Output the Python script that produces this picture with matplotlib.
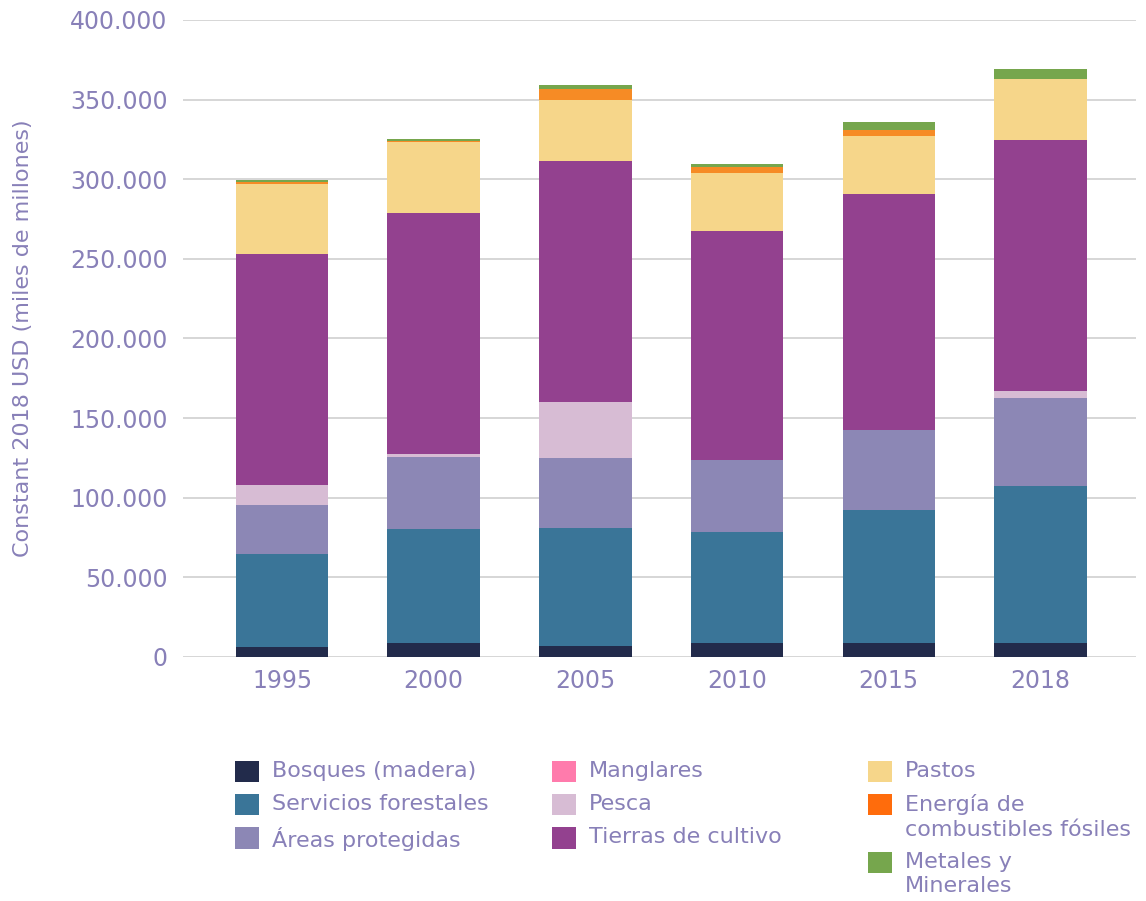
import matplotlib
matplotlib.use("Agg")
import matplotlib.pyplot as plt
from matplotlib.patches import Patch
import numpy as np

plt.rcParams['font.family'] = ['DejaVu Sans']

# data (miles de millones de USD constantes 2018)
years = ["1995", "2000", "2005", "2010", "2015", "2018"]
bosques = [6300, 9000, 6900, 9000, 9000, 9000]
servicios = [58400, 71400, 74100, 69500, 83100, 98400]
areas = [30700, 45400, 44200, 45000, 50400, 55400]
manglares = [0, 0, 0, 0, 0, 0]
pesca = [12400, 1700, 34800, 0, 0, 4400]
tierras = [145200, 151100, 151300, 143800, 148400, 157400]
pastos = [44000, 44600, 38500, 36400, 36500, 38200]
energia = [1300, 1000, 6900, 4200, 3300, 0]
metales = [1400, 1100, 2300, 1500, 5300, 6600]

series = [
    ("Bosques (madera)", bosques, "#222b4b"),
    ("Servicios forestales", servicios, "#3a7598"),
    ("Áreas protegidas", areas, "#8c87b5"),
    ("Manglares", manglares, "#ff7bac"),
    ("Pesca", pesca, "#d7bcd4"),
    ("Tierras de cultivo", tierras, "#93418f"),
    ("Pastos", pastos, "#f6d68a"),
    ("Energía de\ncombustibles fósiles", energia, "#f68b25"),
    ("Metales y\nMinerales", metales, "#76a64d"),
]
legend_colors = {"Energía de\ncombustibles fósiles": "#ff6c0c"}

txt = "#8880b8"

fig = plt.figure(figsize=(11.46, 9.01), dpi=100)
ax = fig.add_axes([183/1146, 1 - 657/901, 953/1146, 637/901])

x = np.arange(len(years))
bottom = np.zeros(len(years))
for name, vals, col in series:
    ax.bar(x, vals, 0.61, bottom=bottom, color=col, zorder=2)
    bottom += np.array(vals)

ax.set_xlim(-0.653, 5.63)
ax.set_ylim(0, 400000)
ax.set_yticks(np.arange(0, 400001, 50000))
ax.set_yticklabels([f"{int(v):,}".replace(",", ".") for v in np.arange(0, 400001, 50000)])
ax.set_xticks(x)
ax.set_xticklabels(years)
ax.tick_params(axis='both', length=0, labelsize=17, colors=txt)
ax.tick_params(axis='y', pad=11)
ax.tick_params(axis='x', pad=9)
ax.grid(axis='y', color='#d3d3d3', linewidth=1.3, zorder=0)
ax.set_axisbelow(True)
for s in ax.spines.values():
    s.set_visible(False)

ax.set_ylabel("Constant 2018 USD (miles de millones)", fontsize=16, color=txt)
ax.yaxis.set_label_coords(-0.157, 0.5)

# legend in three columns
cols_x = [235, 552, 868]
for i, cx in enumerate(cols_x):
    handles = []
    for name, vals, col in series[i*3:(i+1)*3]:
        handles.append(Patch(facecolor=legend_colors.get(name, col), label=name))
    leg = fig.legend(handles=handles, loc='upper left',
                     bbox_to_anchor=(cx/1146, 1 - 761/901),
                     frameon=False, fontsize=16, borderpad=0, borderaxespad=0,
                     handlelength=1.1, handleheight=1.1, handletextpad=0.55,
                     labelspacing=0.53, labelcolor=txt)
    for t in leg.get_texts():
        t.set_linespacing(1.3)
    for column in leg._legend_handle_box.get_children():
        for row in column.get_children():
            row.align = "top"

fig.savefig("out.png", dpi=100)
